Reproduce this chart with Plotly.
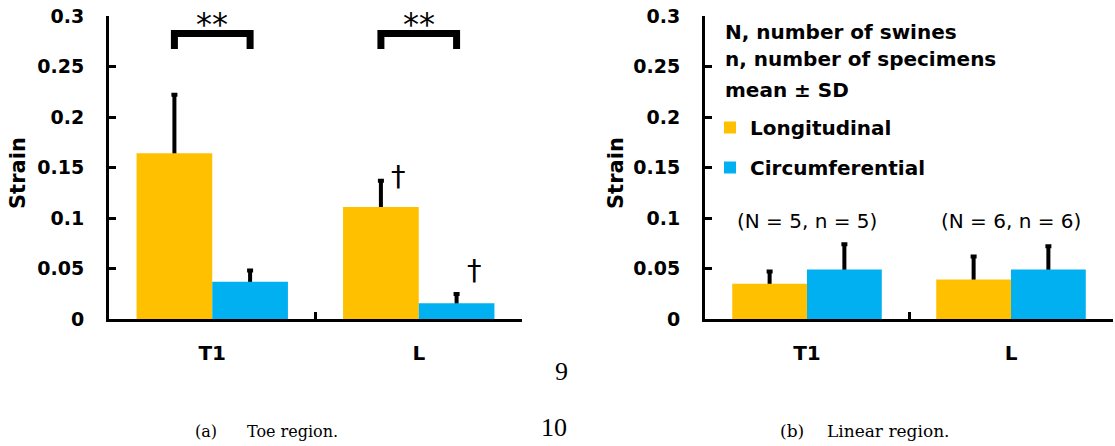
import plotly.graph_objects as go

W, H = 1115, 446

categories = ["T1", "L"]
series_names = ["Longitudinal", "Circumferential"]
colors = ["#FFC000", "#00B0F0"]

# (a) Toe region
toe_long_mean = [0.164, 0.111]
toe_long_sd = [0.058, 0.026]
toe_circ_mean = [0.037, 0.0155]
toe_circ_sd = [0.011, 0.0093]

# (b) Linear region
lin_long_mean = [0.035, 0.039]
lin_long_sd = [0.012, 0.023]
lin_circ_mean = [0.049, 0.049]
lin_circ_sd = [0.025, 0.023]

sample_labels = ["(N = 5, n = 5)", "(N = 6, n = 6)"]
ytick_vals = [0, 0.05, 0.1, 0.15, 0.2, 0.25, 0.3]
ytick_text = ["0", "0.05", "0.1", "0.15", "0.2", "0.25", "0.3"]
legend_header = ["N, number of swines", "n, number of specimens", "mean ± SD"]

SANS = "DejaVu Sans"
SERIF = "DejaVu Serif"


def px_x(p):
    return p / W


def px_y(p):
    return 1 - p / H


fig = go.Figure()

panels = [
    ("x", "y", toe_long_mean, toe_long_sd, toe_circ_mean, toe_circ_sd, True),
    ("x2", "y2", lin_long_mean, lin_long_sd, lin_circ_mean, lin_circ_sd, False),
]
SHOE_HIDE = 0.003  # lower error arm kept inside the bar so that it is covered
for xa, ya, lm, ls, cm, cs, show in panels:
    groups = [(series_names[0], colors[0], lm, ls, "g0"), (series_names[1], colors[1], cm, cs, "g1")]
    # error-bar carriers (drawn first, covered by the visible bars)
    for name, col, m, s, og in groups:
        fig.add_trace(go.Bar(
            x=categories, y=m, name=name + " SD", xaxis=xa, yaxis=ya, offsetgroup=og,
            marker=dict(color="rgba(0,0,0,0)", line=dict(width=0)),
            error_y=dict(type="data", array=s, arrayminus=[SHOE_HIDE] * len(s), symmetric=False,
                         color="black", thickness=4, width=3),
            showlegend=False, hoverinfo="skip",
        ))
    for name, col, m, s, og in groups:
        fig.add_trace(go.Bar(
            x=categories, y=m, name=name, xaxis=xa, yaxis=ya, offsetgroup=og,
            marker=dict(color=col, line=dict(width=0)),
            showlegend=show, legendgroup=name,
        ))

axis_common_x = dict(
    type="category", showline=True, linecolor="black", linewidth=3,
    ticks="inside", tickson="boundaries", ticklen=7, tickwidth=3, tickcolor="black",
    tickfont=dict(family=SANS, size=20, color="black", weight="bold"),
    ticklabelstandoff=14, showgrid=False, zeroline=False, fixedrange=True, automargin=False,
)
axis_common_y = dict(
    range=[0, 0.3], showline=True, linecolor="black", linewidth=3,
    ticks="inside", ticklen=7, tickwidth=3, tickcolor="black",
    tickvals=ytick_vals, ticktext=ytick_text,
    tickfont=dict(family=SANS, size=19, color="black", weight="bold"),
    ticklabelstandoff=18, showgrid=False, zeroline=False, fixedrange=True, automargin=False,
)

ydom = [px_y(319), px_y(16)]
fig.update_layout(
    width=W, height=H, margin=dict(l=0, r=0, t=0, b=0, pad=0),
    paper_bgcolor="white", plot_bgcolor="white",
    barmode="group", bargap=0.267, bargroupgap=0,
    xaxis=dict(domain=[px_x(109), px_x(522)], anchor="y", **axis_common_x),
    yaxis=dict(domain=ydom, anchor="x", **axis_common_y),
    xaxis2=dict(domain=[px_x(705), px_x(1113)], anchor="y2", **axis_common_x),
    yaxis2=dict(domain=ydom, anchor="x2", **axis_common_y),
    legend=dict(
        x=px_x(710), y=px_y(108), xanchor="left", yanchor="top",
        bgcolor="rgba(0,0,0,0)", borderwidth=0, tracegroupgap=11,
        font=dict(family=SANS, size=20, color="black", weight="bold"),
        itemclick=False, itemdoubleclick=False,
    ),
    showlegend=True,
)

ann = []
# y-axis titles
for xc in [18, 616]:
    ann.append(dict(text="Strain", x=px_x(xc), y=px_y(173), xref="paper", yref="paper",
                    textangle=-90, showarrow=False, xanchor="center", yanchor="middle",
                    font=dict(family=SANS, size=21, color="black", weight="bold")))

# significance brackets (left panel)
half = (1 - 0.267) / 4  # offset of bar centres from category centre
shapes = []
for i in range(len(categories)):
    x0, x1 = i - half, i + half
    shapes.append(dict(type="path", xref="x", yref="y",
                       path=f"M{x0},0.2673 L{x0},0.2827 L{x1},0.2827 L{x1},0.2673",
                       line=dict(color="black", width=7)))
    ann.append(dict(text="**", x=i, y=0.292, xref="x", yref="y", showarrow=False,
                    xanchor="center", yanchor="middle",
                    font=dict(family=SANS, size=32, color="black")))

# daggers (left panel, L category)
ann.append(dict(text="†", x=1 - half, y=toe_long_mean[1] + toe_long_sd[1] + 0.005,
                xref="x", yref="y", showarrow=False, xshift=18, yanchor="middle",
                font=dict(family=SANS, size=29, color="black")))
ann.append(dict(text="†", x=1 + half, y=toe_circ_mean[1] + toe_circ_sd[1] + 0.024,
                xref="x", yref="y", showarrow=False, xshift=18, yanchor="middle",
                font=dict(family=SANS, size=29, color="black")))

# sample size labels (right panel)
for i, lab in enumerate(sample_labels):
    ann.append(dict(text=lab, x=i, y=0.097, xref="x2", yref="y2", showarrow=False,
                    xanchor="center", yanchor="middle",
                    font=dict(family=SANS, size=20, color="black")))

# legend header lines (right panel)
for txt, yc in zip(legend_header, [32, 59, 90]):
    ann.append(dict(text=txt, x=px_x(723), y=px_y(yc), xref="paper", yref="paper",
                    showarrow=False, xanchor="left", yanchor="middle",
                    font=dict(family=SANS, size=20, color="black", weight="bold")))

# captions and page-line numbers
CAP_Y = 431
ann.append(dict(text="(a)", x=px_x(206), y=px_y(CAP_Y), xref="paper", yref="paper", showarrow=False,
                xanchor="center", yanchor="middle", font=dict(family=SERIF, size=16, color="black")))
ann.append(dict(text="Toe region.", x=px_x(245), y=px_y(CAP_Y), xref="paper", yref="paper", showarrow=False,
                xanchor="left", yanchor="middle", font=dict(family=SERIF, size=16, color="black")))
ann.append(dict(text="(b)", x=px_x(792), y=px_y(CAP_Y), xref="paper", yref="paper", showarrow=False,
                xanchor="center", yanchor="middle", font=dict(family=SERIF, size=17, color="black")))
ann.append(dict(text="Linear region.", x=px_x(825), y=px_y(CAP_Y), xref="paper", yref="paper", showarrow=False,
                xanchor="left", yanchor="middle", font=dict(family=SERIF, size=17, color="black")))
ann.append(dict(text="9", x=px_x(561), y=px_y(371), xref="paper", yref="paper", showarrow=False,
                xanchor="center", yanchor="middle", font=dict(family="Liberation Serif", size=26, color="black")))
ann.append(dict(text="10", x=px_x(554), y=px_y(427), xref="paper", yref="paper", showarrow=False,
                xanchor="center", yanchor="middle", font=dict(family="Liberation Serif", size=26, color="black")))

fig.update_layout(annotations=ann, shapes=shapes)

fig.write_html("out.html", config={"displayModeBar": False})
